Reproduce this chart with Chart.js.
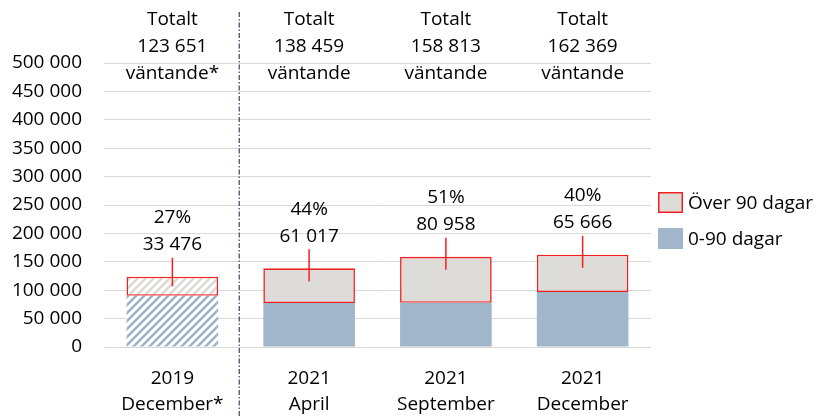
<!DOCTYPE html>
<html><head><meta charset="utf-8">
<script src="https://cdn.jsdelivr.net/npm/chart.js@4"></script>
<style>html,body{margin:0;padding:0;background:#fff}canvas{display:block}</style>
</head><body>
<canvas id="c" width="823" height="416"></canvas>
<script>
// ---- data ----
const categories = [['2019', 'December*'], ['2021', 'April'], ['2021', 'September'], ['2021', 'December']];
const under90 = [90175, 77442, 77855, 96703];
const over90 = [33476, 61017, 80958, 65666];
const totals = [123651, 138459, 158813, 162369];
const totalWord = ['Totalt', 'Totalt', 'Totalt', 'Totalt'];
const totalSuffix = ['väntande*', 'väntande', 'väntande', 'väntande'];
const hatched = [true, false, false, false];
const seriesNames = ['0-90 dagar', 'Över 90 dagar'];
const yMax = 500000;
const yStep = 50000;

// ---- styles ----
const FONT = '"Open Sans", Lato, sans-serif';
const FSIZE = 19;
const BLUE = '#A1B6CA';
const GREY = '#DEDCD8';
const RED = '#F21F1F';
const TXT = '#000';
const DY = 2; // baseline correction for overlay texts

function fmt(n) { return String(Math.round(n)).replace(/\B(?=(\d{3})+(?!\d))/g, ' '); }

function hatch(color) {
  const c = document.createElement('canvas');
  c.width = 8; c.height = 8;
  const g = c.getContext('2d');
  g.fillStyle = '#fff'; g.fillRect(0, 0, 8, 8);
  g.strokeStyle = color; g.lineWidth = 2.6;
  g.beginPath();
  g.moveTo(-1, 9); g.lineTo(9, -1);
  g.moveTo(-3, 3); g.lineTo(3, -3);
  g.moveTo(5, 11); g.lineTo(11, 5);
  g.stroke();
  return g.createPattern(c, 'repeat');
}
const blueHatch = hatch('#9DB3C9');
const greyHatch = hatch('#DCD9D4');

const overlay = {
  id: 'overlay',
  afterDraw(chart) {
    const ctx = chart.ctx;
    const xs = chart.scales.x;
    ctx.save();
    ctx.font = FSIZE + 'px ' + FONT;
    ctx.textAlign = 'center';
    ctx.textBaseline = 'middle';
    const topMeta = chart.getDatasetMeta(1);
    for (let i = 0; i < categories.length; i++) {
      const x = xs.getPixelForValue(i);
      ctx.fillStyle = TXT;
      ctx.fillText(totalWord[i], x, 18 + DY);
      ctx.fillText(fmt(totals[i]), x, 45 + DY);
      ctx.fillText(totalSuffix[i], x, 72 + DY);
      const bar = topMeta.data[i];
      const top = bar.y, bottom = bar.base;
      const lineTop = top - 19;
      const lineBot = Math.min(top + 13, (top + bottom) / 2);
      ctx.strokeStyle = RED; ctx.lineWidth = 1.5;
      ctx.beginPath(); ctx.moveTo(bar.x, lineTop); ctx.lineTo(bar.x, lineBot); ctx.stroke();
      const pct = Math.round(over90[i] / totals[i] * 100) + '%';
      ctx.fillText(pct, bar.x, lineTop - 42 + DY);
      ctx.fillText(fmt(over90[i]), bar.x, lineTop - 15 + DY);
    }
    // separator between 2019 and 2021
    const sx = (xs.getPixelForValue(0) + xs.getPixelForValue(1)) / 2 - 1.5;
    ctx.strokeStyle = '#44546A'; ctx.lineWidth = 1.3;
    ctx.setLineDash([5, 2, 1.5, 2]);
    ctx.beginPath(); ctx.moveTo(sx, 12); ctx.lineTo(sx, 416); ctx.stroke();
    ctx.setLineDash([]);
    // legend
    const lx = 658;
    const items = [
      { name: seriesNames[1], fill: GREY, stroke: RED, y: 192 },
      { name: seriesNames[0], fill: BLUE, stroke: null, y: 228 }
    ];
    ctx.textAlign = 'left';
    items.forEach(it => {
      ctx.fillStyle = it.fill;
      ctx.fillRect(lx, it.y, 25, 21);
      if (it.stroke) { ctx.strokeStyle = it.stroke; ctx.lineWidth = 1.5; ctx.strokeRect(lx + 0.75, it.y + 0.75, 23.5, 19.5); }
      ctx.fillStyle = TXT;
      ctx.fillText(it.name, lx + 30, it.y + 11 + DY / 2);
    });
    ctx.restore();
  }
};

new Chart(document.getElementById('c'), {
  type: 'bar',
  data: {
    labels: categories,
    datasets: [
      { label: seriesNames[0], data: under90, backgroundColor: hatched.map(h => h ? blueHatch : BLUE), borderWidth: 0 },
      { label: seriesNames[1], data: over90, backgroundColor: hatched.map(h => h ? greyHatch : GREY), borderColor: RED, borderWidth: 1.6, borderSkipped: false }
    ]
  },
  options: {
    responsive: false,
    animation: false,
    devicePixelRatio: 1,
    categoryPercentage: 1,
    barPercentage: 0.67,
    layout: { padding: { top: 63, right: 172, bottom: 0, left: 0 } },
    plugins: { legend: { display: false }, tooltip: { enabled: false } },
    scales: {
      x: {
        stacked: true,
        grid: { display: false },
        border: { display: false },
        ticks: { color: TXT, font: { family: FONT, size: FSIZE, lineHeight: 1.37 }, padding: 11, maxRotation: 0, autoSkip: false },
        afterFit(s) { s.height = 69; }
      },
      y: {
        stacked: true,
        min: 0, max: yMax,
        grid: { color: '#D9D9D9', lineWidth: 1, drawTicks: false },
        border: { display: false },
        ticks: { stepSize: yStep, color: TXT, font: { family: FONT, size: FSIZE }, padding: 22, callback: v => fmt(v) },
        afterFit(s) { s.width = 104; }
      }
    }
  },
  plugins: [overlay]
});
</script>
</body></html>
